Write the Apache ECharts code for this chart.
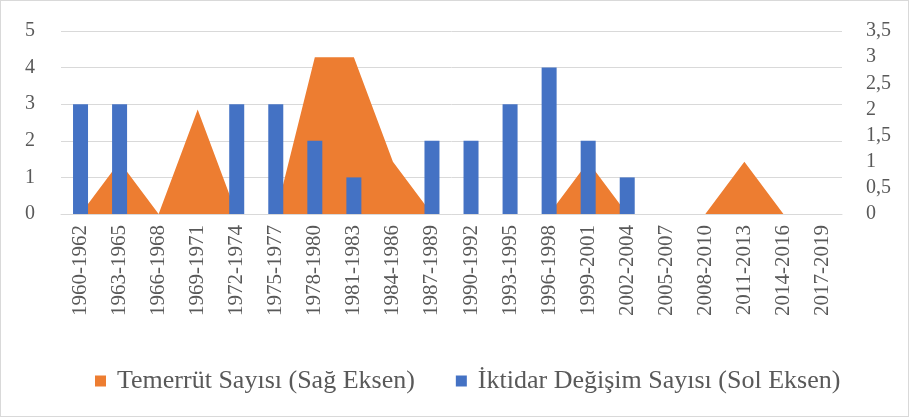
<!DOCTYPE html>
<html>
<head>
<meta charset="utf-8">
<script src="https://cdn.jsdelivr.net/npm/echarts@6/dist/echarts.min.js"></script>
<style>
  html, body { margin: 0; padding: 0; background: #fff; }
  #chart { width: 907px; height: 415px; border: 1px solid #d9d9d9; }
</style>
</head>
<body>
<div id="chart"></div>
<script>
const periods = ['1960-1962', '1963-1965', '1966-1968', '1969-1971', '1972-1974',
  '1975-1977', '1978-1980', '1981-1983', '1984-1986', '1987-1989', '1990-1992',
  '1993-1995', '1996-1998', '1999-2001', '2002-2004', '2005-2007', '2008-2010',
  '2011-2013', '2014-2016', '2017-2019']
// right axis
const defaults = [0, 1, 0, 2, 0, 0, 3, 3, 1, 0, 0, 0, 0, 1, 0, 0, 0, 1, 0, 0]
// left axis
const powerChanges = [3, 3, 0, 0, 3, 3, 2, 1, 0, 2, 2, 3, 4, 2, 1, 0, 0, 0, 0, 0]

const textColor = '#595959'
const fontFamily = '"Liberation Serif", "DejaVu Serif", serif'

const chart = echarts.init(document.getElementById('chart'))
chart.setOption({
  animation: false,
  textStyle: { fontFamily: fontFamily, color: textColor },
  grid: { left: 60, right: 66, top: 30, bottom: 202 },
  legend: {
    top: 362,
    left: 89,
    itemWidth: 11,
    itemHeight: 11,
    itemGap: 41,
    icon: 'rect',
    textStyle: { fontSize: 26, color: textColor, fontFamily: fontFamily, padding: [0, 0, 0, 6] },
    data: ['Temerrüt Sayısı (Sağ Eksen)', 'İktidar Değişim Sayısı (Sol Eksen)']
  },
  xAxis: {
    type: 'category',
    data: periods,
    axisLine: { lineStyle: { color: '#d9d9d9' } },
    axisTick: { show: false },
    axisLabel: { rotate: 90, interval: 0, fontSize: 21, color: textColor, margin: 11 }
  },
  yAxis: [
    {
      type: 'value', min: 0, max: 5, interval: 1,
      axisLabel: { fontSize: 20, color: textColor, margin: 26 },
      splitLine: { lineStyle: { color: '#d9d9d9', width: 1 } }
    },
    {
      type: 'value', min: 0, max: 3.5, interval: 0.5,
      position: 'right',
      splitLine: { show: false },
      axisLabel: {
        fontSize: 20, color: textColor, margin: 24,
        formatter: (v) => String(v).replace('.', ',')
      }
    }
  ],
  series: [
    {
      name: 'Temerrüt Sayısı (Sağ Eksen)',
      type: 'line',
      yAxisIndex: 1,
      data: defaults,
      symbol: 'none',
      lineStyle: { width: 0 },
      areaStyle: { color: '#ed7d31', opacity: 1 },
      itemStyle: { color: '#ed7d31' },
      z: 1
    },
    {
      name: 'İktidar Değişim Sayısı (Sol Eksen)',
      type: 'bar',
      yAxisIndex: 0,
      data: powerChanges,
      barWidth: 15,
      itemStyle: { color: '#4472c4' },
      z: 3
    }
  ]
})
</script>
</body>
</html>
